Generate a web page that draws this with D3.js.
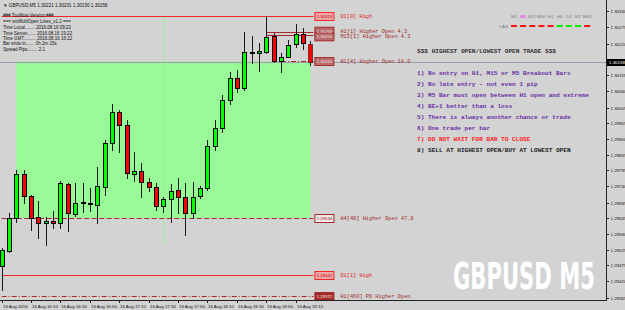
<!DOCTYPE html>
<html><head><meta charset="utf-8">
<script src="https://cdn.jsdelivr.net/npm/d3@7"></script>
<style>html,body{margin:0;padding:0;background:#d3d3d3;overflow:hidden}svg{display:block}</style>
</head><body><svg id="c" width="625" height="310"></svg>
<script>
// ---------- DATA ----------
const times = ["15:50","15:55","16:00","16:05","16:10","16:15","16:20","16:25","16:30","16:35","16:40","16:45",
  "16:50","16:55","17:00","17:05","17:10","17:15","17:20","17:25","17:30","17:35","17:40","17:45","17:50","17:55",
  "18:00","18:05","18:10","18:15","18:20","18:25","18:30","18:35","18:40","18:45","18:50","18:55","19:00","19:05",
  "19:10","19:15","19:20"];
const opens  = [1.29472,1.29522,1.29633,1.29782,1.29707,1.29637,1.29617,1.29623,1.29617,1.29748,1.29647,1.29684,1.29684,1.29677,1.29738,1.29886,1.29990,1.29947,1.29782,1.29792,1.29755,1.29738,1.29674,1.29697,1.29728,1.29704,1.29650,1.29707,1.29734,1.29876,1.29937,1.30031,1.30105,1.30071,1.30192,1.30189,1.30192,1.30246,1.30162,1.30176,1.30219,1.30253,1.30221];
const highs  = [1.29532,1.29650,1.29795,1.29795,1.29711,1.29691,1.29637,1.29657,1.29758,1.29751,1.29751,1.29751,1.29734,1.29805,1.29896,1.30017,1.29998,1.29963,1.29856,1.29819,1.29768,1.29751,1.29704,1.29748,1.29768,1.29751,1.29755,1.29741,1.29896,1.29963,1.30048,1.30125,1.30132,1.30260,1.30246,1.30223,1.30314,1.30256,1.30189,1.30233,1.30287,1.30273,1.30231];
const lows   = [1.29391,1.29519,1.29620,1.29684,1.29593,1.29566,1.29542,1.29600,1.29600,1.29590,1.29640,1.29654,1.29657,1.29617,1.29711,1.29862,1.29856,1.29768,1.29758,1.29704,1.29724,1.29660,1.29654,1.29620,1.29650,1.29576,1.29633,1.29701,1.29728,1.29862,1.29923,1.30017,1.30058,1.30065,1.30155,1.30128,1.30189,1.30158,1.30125,1.30176,1.30209,1.30203,1.30150];
const closes = [1.29526,1.29633,1.29782,1.29707,1.29633,1.29617,1.29623,1.29617,1.29751,1.29650,1.29684,1.29686,1.29681,1.29741,1.29886,1.29990,1.29947,1.29785,1.29792,1.29755,1.29738,1.29674,1.29697,1.29724,1.29704,1.29650,1.29704,1.29734,1.29876,1.29937,1.30031,1.30105,1.30071,1.30192,1.30193,1.30196,1.30243,1.30162,1.30176,1.30216,1.30253,1.30223,1.30158];
const bidPrice = 1.30158;

const yTickLabels = ["1.30330","1.30275","1.30220","1.30115","1.30060","1.30005","1.29955","1.29900","1.29845",
  "1.29795","1.29740","1.29685","1.29635","1.29580","1.29525","1.29475","1.29420","1.29365"];
const xTickTimes  = ["15:50","16:10","16:30","16:50","17:10","17:30","17:50","18:10","18:30","18:50","19:10"];
const xTickLabels = ["16 Aug 2016","16 Aug 16:10","16 Aug 16:30","16 Aug 16:50","16 Aug 17:10","16 Aug 17:30",
  "16 Aug 17:50","16 Aug 18:10","16 Aug 18:30","16 Aug 18:50","16 Aug 19:10"];

const levelNames  = ["D1[0] High","H1[1] Higher Open 4.3","M15[1] Higher Open 4.3","H1[4] Higher Open 18.0",
  "H4[40] Higher Open 47.9","D1[1] High","H1[460] PD Higher Open"];
const levelValues = [1.30313,1.30260,1.30250,1.30163,1.29634,1.29441,1.29372];
const levelStarts = ["15:50","18:50","18:50","19:00","15:50","15:50","15:50"];

const zoneHigh = 1.30160, zoneLow = 1.29634, zoneStart = "16:00", zoneEnd = "19:20";
const markerTime = "17:40", markerHigh = 1.30313, markerLow = 1.29542;

const headerText = "GBPUSD,M5  1.30221 1.30231 1.30150 1.30158";
const infoLines = ["### TooMow Version ###","=== smMultiOpen Lines_v1.2 ===","Time Local........ 2016.08.16 09:22",
  "Time Server....... 2016.08.16 19:22","Time GMT.......... 2016.08.16 16:22","Bar ends in....... 0h 2m 15s",
  "Spread Pips........ 2.1"];
const ruleTitle = "$$$ HIGHEST OPEN/LOWEST OPEN TRADE $$$";
const rules = ["1) No entry on H1, M15 or M5 Breakout Bars","2) No late entry - not even 1 pip",
  "3) M5 Bar must open between H1 open and extreme","4) BE+1 better than a loss",
  "5) There is always another chance or trade","6) One trade per bar","7) DO NOT WAIT FOR BAR TO CLOSE",
  "8) SELL AT HIGHEST OPEN/BUY AT LOWEST OPEN"];
const tfNames = ["M1","M5","M15","M30","H1","H4","D1","W1","MN1"];
const tfUp    = [false,false,false,false,false,true,true,true,false];
const watermark = "GBPUSD M5";

// ---------- STYLES ----------
const RED = "#f02828", DRED = "#a52a2a";
const levelStyle = [
  {c:RED,  dash:null,      boxFill:"#f4a6a6", boxText:"#b00000", dy:0},
  {c:DRED, dash:null,      boxFill:"#b86a6a", boxText:"#f4e4e4", dy:-1.3},
  {c:DRED, dash:null,      boxFill:"#b86a6a", boxText:"#f4e4e4", dy:1.3},
  {c:DRED, dash:"5,2,1,2", boxFill:"#b86a6a", boxText:"#f4e4e4", dy:0},
  {c:DRED, dash:"5,2.5",   boxFill:"#f2e8e8", boxText:"#8b1a1a", dy:0},
  {c:RED,  dash:null,      boxFill:"#f4a6a6", boxText:"#b00000", dy:0},
  {c:DRED, dash:"5,2,1,2", boxFill:"#a52a2a", boxText:"#f8eeee", dy:0}
];
const purple = "#6a2ea6";

// ---------- CHART ----------
const svg = d3.select("#c");
svg.append("rect").attr("width",625).attr("height",310).attr("fill","#d3d3d3");

const parse = d3.timeParse("%H:%M");
const tD = times.map(parse);
const x = d3.scaleTime().domain([tD[0], tD[tD.length-1]]).range([1.7, 310.4]);
const y = d3.scaleLinear().domain([1.29365, 1.30115]).range([297.7, 75]);
const px = v => Math.round(v) + 0.5;
const endX = x(tD[tD.length-1]) + 3;

// green zone
svg.append("rect")
  .attr("x", x(parse(zoneStart))).attr("y", y(zoneHigh))
  .attr("width", x(parse(zoneEnd)) - x(parse(zoneStart)))
  .attr("height", y(zoneLow) - y(zoneHigh))
  .attr("fill", "#98fb98");
svg.append("line")
  .attr("x1", px(x(parse(markerTime)))).attr("x2", px(x(parse(markerTime))))
  .attr("y1", y(markerHigh)).attr("y2", y(markerLow))
  .attr("stroke", "#9cf09c").attr("stroke-width", 1);

// bid line
svg.append("line").attr("x1",0).attr("x2",606).attr("y1",px(y(bidPrice))).attr("y2",px(y(bidPrice)))
  .attr("stroke","#9c9cae").attr("stroke-width",1);

// level lines
levelValues.forEach((v,i)=>{
  const s = levelStyle[i];
  svg.append("line").attr("x1", x(parse(levelStarts[i]))).attr("x2", endX)
    .attr("y1", px(y(v))).attr("y2", px(y(v)))
    .attr("stroke", s.c).attr("stroke-width", 1)
    .attr("stroke-dasharray", s.dash);
});

// candles
const g = svg.append("g");
tD.forEach((t,i)=>{
  const cx = Math.round(x(t));
  const o = opens[i], c = closes[i], h = highs[i], l = lows[i];
  g.append("line").attr("x1", cx+0.5).attr("x2", cx+0.5)
    .attr("y1", Math.round(y(h))).attr("y2", Math.round(y(l))+1)
    .attr("stroke", "#1a1a1a").attr("stroke-width", 1);
  const top = Math.round(y(Math.max(o,c))), bot = Math.round(y(Math.min(o,c)));
  const hgt = Math.max(1, bot - top);
  const last = i === tD.length - 1;
  g.append("rect").attr("x", cx-2+0.5).attr("y", top+0.5)
    .attr("width", 4).attr("height", hgt)
    .attr("fill", c >= o ? "#00ff00" : "#ff0000")
    .attr("stroke", "#000").attr("stroke-width", 1)
    .attr("stroke-dasharray", last ? "1,1" : null);
});

// level boxes + names
levelValues.forEach((v,i)=>{
  const s = levelStyle[i];
  const yy = Math.round(y(v));
  svg.append("rect").attr("x", endX + 1.5).attr("y", yy - 3.5 + s.dy).attr("width", 19).attr("height", 8)
    .attr("fill", s.boxFill).attr("stroke", s.c).attr("stroke-width", 1);
});
levelValues.forEach((v,i)=>{
  const s = levelStyle[i];
  const yy = Math.round(y(v)) + s.dy;
  svg.append("text").attr("x", endX + 11).attr("y", yy + 1.8).attr("text-anchor","middle")
    .attr("font-family","Liberation Sans, Arial, sans-serif").attr("font-size", 4.3)
    .attr("fill", s.boxText).text(v.toFixed(5));
  svg.append("text").attr("x", endX + 27).attr("y", yy + 1.8)
    .attr("font-family","Liberation Mono, Courier New, monospace").attr("font-size", 5.3)
    .attr("fill", s.c === RED ? "#e02020" : "#a02828").text(levelNames[i]);
});

// axes frame
svg.append("line").attr("x1",606.5).attr("x2",606.5).attr("y1",0).attr("y2",301).attr("stroke","#222");
svg.append("line").attr("x1",0).attr("x2",607).attr("y1",300.5).attr("y2",300.5).attr("stroke","#222");

// price axis
yTickLabels.forEach(lbl=>{
  const yy = Math.round(y(+lbl)) + 0.5;
  svg.append("line").attr("x1",606).attr("x2",609).attr("y1",yy).attr("y2",yy).attr("stroke","#222");
  svg.append("text").attr("x",610.5).attr("y",yy+1.6)
    .attr("font-family","Liberation Sans, Arial, sans-serif").attr("font-size",4.4).attr("fill","#111").text(lbl);
});
{
  const yy = Math.round(y(bidPrice)) + 0.5;
  svg.append("rect").attr("x",607).attr("y",yy-3.5).attr("width",18).attr("height",7).attr("fill","#000");
  svg.append("text").attr("x",609).attr("y",yy+1.6)
    .attr("font-family","Liberation Sans, Arial, sans-serif").attr("font-size",4.4).attr("fill","#fff")
    .text(bidPrice.toFixed(5));
}

// time axis
xTickTimes.forEach((t,i)=>{
  const xx = Math.round(x(parse(t))) + 0.5;
  svg.append("line").attr("x1",xx).attr("x2",xx).attr("y1",300).attr("y2",303).attr("stroke","#222");
  svg.append("text").attr("x",xx+0.5).attr("y",307.5)
    .attr("font-family","Liberation Sans, Arial, sans-serif").attr("font-size",4.4).attr("fill","#111")
    .text(xTickLabels[i]);
});

// header + info
svg.append("text").attr("x",3).attr("y",6.5).attr("font-family","Liberation Sans, Arial, sans-serif")
  .attr("font-size",4.6).attr("fill","#111").text("\u25BC " + headerText);
infoLines.forEach((s,i)=>{
  svg.append("text").attr("x",3).attr("y",[16.5,22.5,28.5,34.5,39.5,44.5,50.5][i])
    .attr("font-family","Liberation Sans, Arial, sans-serif").attr("font-size",4.5).attr("fill","#111").text(s);
});

// rules block
const mono = "Liberation Mono, Courier New, monospace";
svg.append("text").attr("x",417).attr("y",53).attr("font-family",mono).attr("font-size",6.1)
  .attr("font-weight","bold").attr("fill","#333").text(ruleTitle);
rules.forEach((s,i)=>{
  svg.append("text").attr("x",417).attr("y",75 + i*11).attr("font-family",mono).attr("font-size",6.1)
    .attr("font-weight","bold")
    .attr("fill", i===6 ? "#ff2020" : (i===7 ? "#222" : purple)).text(s);
});

// timeframe panel
tfNames.forEach((n,i)=>{
  const cx = 514 + i*9.15;
  svg.append("text").attr("x",cx).attr("y",17.5).attr("text-anchor","middle")
    .attr("font-family","Liberation Sans, Arial, sans-serif").attr("font-size",4.3)
    .attr("fill", n==="M5" ? "#ff00ff" : "#7a7a7a").text(n);
  svg.append("rect").attr("x",cx-3).attr("y",25).attr("width",6).attr("height",2)
    .attr("fill", tfUp[i] ? "#00ee00" : "#ff1010");
});
svg.append("text").attr("x",499).attr("y",27.6).attr("font-family","Liberation Sans, Arial, sans-serif")
  .attr("font-size",4.3).attr("fill","#7a7a7a").text("CAN");

// watermark (condensed via horizontal scale so its box stays inside the plot)
const wm = svg.append("g");
const wt = wm.append("text").attr("x",0).attr("y",0)
  .attr("font-family","DejaVu Sans Condensed, Liberation Sans, sans-serif")
  .attr("font-weight","bold").attr("font-size",37)
  .attr("fill","#ffffff").text(watermark);
const ww = wt.node().getBBox().width || 200;
wm.attr("transform", `translate(453,289) scale(${142/ww},1)`);
</script>
</body></html>
